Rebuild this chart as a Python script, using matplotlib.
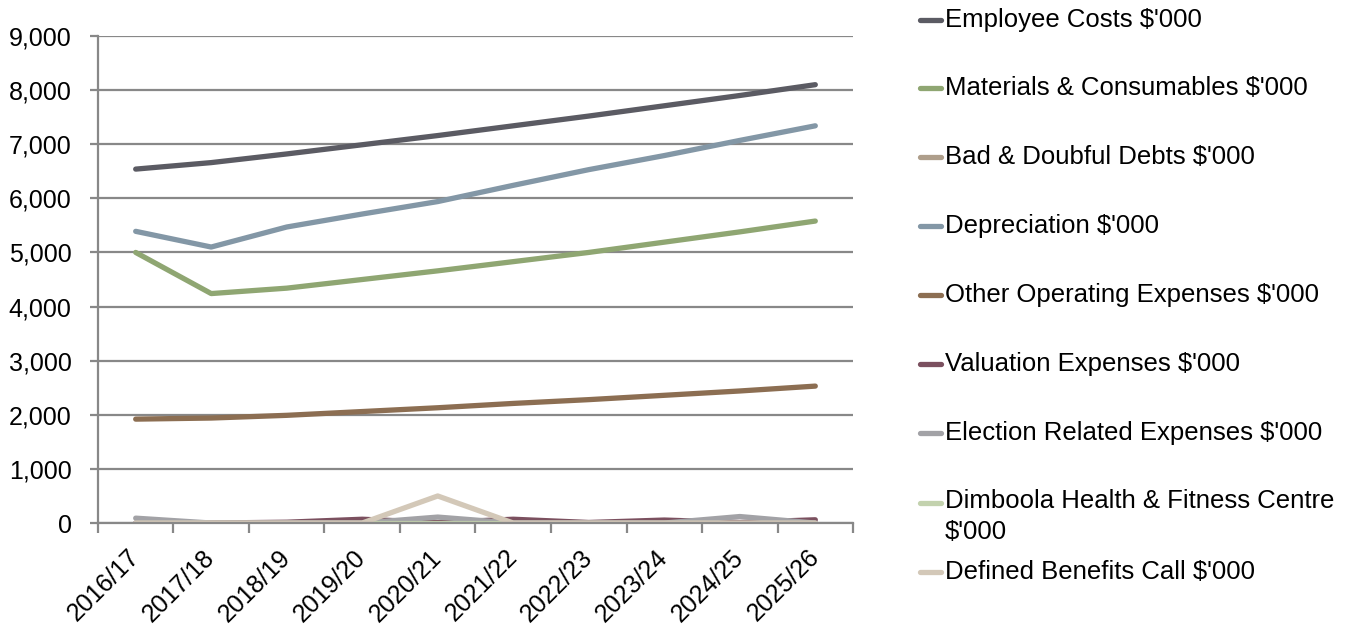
import numpy as np
import matplotlib.pyplot as plt
from matplotlib.lines import Line2D
from matplotlib.ticker import FuncFormatter, FixedLocator

plt.rcParams['font.family'] = ['Liberation Sans', 'DejaVu Sans']

years = ['2016/17', '2017/18', '2018/19', '2019/20', '2020/21',
         '2021/22', '2022/23', '2023/24', '2024/25', '2025/26']

employee = [6540, 6660, 6820, 6990, 7160, 7340, 7520, 7710, 7900, 8100]
materials = [5000, 4240, 4340, 4500, 4660, 4830, 5000, 5190, 5380, 5580]
bad_debts = [5, 5, 5, 5, 5, 5, 5, 5, 5, 5]
depreciation = [5390, 5100, 5470, 5710, 5940, 6240, 6530, 6790, 7070, 7340]
other_opex = [1920, 1940, 1990, 2060, 2130, 2210, 2280, 2360, 2440, 2530]
valuation = [0, 0, 15, 70, 10, 70, 10, 55, 10, 60]
election = [90, 0, 0, 0, 110, 0, 0, 0, 120, 0]
dimboola = [0, 0, 0, 0, 0, 0, 0, 0, 0, 0]
defined_benefits = [0, 0, 0, 0, 500, 0, 0, 0, 0, 0]

series = [
    ("Employee Costs $'000", employee, '#5b5b63'),
    ("Materials & Consumables $'000", materials, '#8fa672'),
    ("Bad & Doubful Debts $'000", bad_debts, '#ae9e8b'),
    ("Depreciation $'000", depreciation, '#8397a6'),
    ("Other Operating Expenses $'000", other_opex, '#8c6e52'),
    ("Valuation Expenses $'000", valuation, '#7b505f'),
    ("Election Related Expenses $'000", election, '#a2a2a6'),
    ("Dimboola Health & Fitness Centre\n$'000", dimboola, '#c3d2ae'),
    ("Defined Benefits Call $'000", defined_benefits, '#d3c8b8'),
]

fig = plt.figure(figsize=(13.64, 6.3), dpi=100)
ax = fig.add_axes([0.0718, 0.1698, 0.5536, 0.7731])

x = np.arange(len(years))
for label, vals, color in series:
    ax.plot(x, vals, color=color, lw=3.8, solid_capstyle='round',
            solid_joinstyle='round')

ax.set_xlim(-0.5, len(years) - 0.5)
ax.set_ylim(0, 9000)
ax.set_yticks(np.arange(0, 9001, 1000))
ax.yaxis.set_major_formatter(FuncFormatter(lambda v, p: f'{int(v):,}'))
ax.yaxis.grid(True, color='#888888', lw=1.6)
ax.set_axisbelow(True)

# category labels in the middle, tick marks on the boundaries
ax.set_xticks(x)
ax.set_xticklabels(years, rotation=45, ha='right', va='center',
                   rotation_mode='anchor')
ax.xaxis.set_minor_locator(FixedLocator(np.arange(-0.5, len(years), 1.0)))
ax.tick_params(axis='x', which='major', length=0, pad=22, labelsize=18)
ax.tick_params(axis='x', which='minor', length=7, width=1.6, color='#888888')
ax.tick_params(axis='y', length=6, width=1.6, color='#888888', pad=13,
               labelsize=18)

for side in ['top', 'right']:
    ax.spines[side].set_visible(False)
for side in ['left', 'bottom']:
    ax.spines[side].set_color('#888888')
    ax.spines[side].set_linewidth(1.6)

# legend on the right, one row per series
legend_rows = [20, 88, 157, 226, 295, 364, 433, 503, 572]
for (label, vals, color), row in zip(series, legend_rows):
    yf = 1 - row / 630
    fig.add_artist(Line2D([920 / 1364, 941 / 1364], [yf, yf], color=color,
                          lw=3.8, solid_capstyle='round',
                          transform=fig.transFigure))
    if '\n' in label:
        fig.text(945 / 1364, yf + 14 / 630, label, fontsize=18.5, va='top',
                 ha='left', linespacing=1.35)
    else:
        fig.text(945 / 1364, yf, label, fontsize=18.5, va='center',
                 ha='left')

fig.savefig('out.png', dpi=100)
